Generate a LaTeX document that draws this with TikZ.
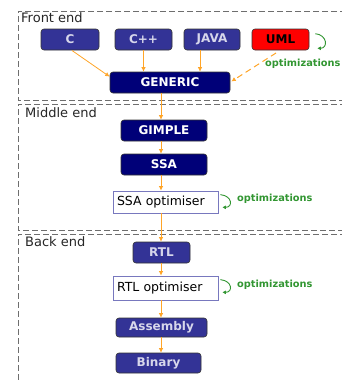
\documentclass[tikz,border=0pt]{standalone}
\usepackage{fontspec}
\setmainfont{DejaVu Sans}
\usetikzlibrary{arrows.meta,calc}
\definecolor{midnavy}{RGB}{51,51,150}
\definecolor{darknavy}{RGB}{0,0,120}
\definecolor{boxtext}{RGB}{215,215,235}
\definecolor{arrorange}{RGB}{255,165,40}
\definecolor{optgreen}{RGB}{50,150,50}
\definecolor{optborder}{RGB}{120,120,190}
\definecolor{dashgray}{RGB}{110,110,110}
\begin{document}
\begin{tikzpicture}[x=1pt,y=-1pt,
  lang/.style={draw=black!80, line width=0.6pt, rounded corners=3pt, fill=midnavy,
    text=boxtext, font=\fontsize{12}{14}\selectfont\bfseries, minimum height=21pt, inner sep=0pt},
  dark/.style={lang, fill=darknavy, text=white},
  optbox/.style={draw=optborder, line width=0.7pt, fill=white, text=black,
    font=\fontsize{12.5}{14}\selectfont, minimum width=105pt, text width=97pt, align=left, inner sep=0pt},
  arr/.style={draw=arrorange, line width=0.8pt, -{Latex[length=4.5pt,width=4.5pt]}},
  loop/.style={draw=optgreen, line width=0.9pt, -{Latex[length=3.5pt,width=4pt]}},
  optlabel/.style={text=optgreen, font=\fontsize{9.8}{11}\selectfont\bfseries, inner sep=0pt, anchor=west},
  region/.style={draw=dashgray, line width=0.8pt, dash pattern=on 6pt off 3pt},
  title/.style={font=\fontsize{13}{15}\selectfont, text=black!85, inner sep=0pt, anchor=north west}
]
\useasboundingbox (0,0) rectangle (341,381);
% regions
\draw[region] (346,11) -- (18,11) -- (18,100) -- (346,100);
\draw[region] (346,104) -- (18,104) -- (18,230) -- (346,230);
\draw[region] (346,234) -- (18,234) -- (18,385);
\node[title] (fe) at (21,12) {Front end};
\node[title] (me) at (25,107) {Middle end};
\node[title] (be) at (25,236) {Back end};
% front end nodes
\node[lang, minimum width=58pt] (C) at (70,39.5) {C};
\node[lang, minimum width=57pt] (CPP) at (143.5,39.5) {C++};
\node[lang, minimum width=56pt] (JAVA) at (212,39.5) {JAVA};
\node[lang, minimum width=57pt, fill=red, text=black] (UML) at (280.5,39.5) {UML};
\node[dark, minimum width=120pt] (GEN) at (170,82.5) {GENERIC};
% middle end
\node[dark, minimum width=86pt] (GIMPLE) at (164,130.5) {GIMPLE};
\node[dark, minimum width=86pt] (SSA) at (164,164.5) {SSA};
\node[optbox, minimum height=22pt] (SSAO) at (165.5,202) {SSA optimiser};
% back end
\node[lang, minimum width=57pt] (RTL) at (161.5,252.5) {RTL};
\node[optbox, minimum height=24pt] (RTLO) at (165.5,288) {RTL optimiser};
\node[lang, minimum width=91pt, minimum height=19pt] (ASM) at (161.5,327.5) {Assembly};
\node[lang, minimum width=85pt, minimum height=20pt] (BIN) at (158.5,363) {Binary};
% columns
\coordinate (col) at (161,0);
\coordinate (javacol) at (200,0);
\coordinate (cstart) at (72,50.5);
\coordinate (umlstart) at (276,53);
% arrows
\draw[arr] (cstart) -- ([yshift=-5pt]GEN.north west);
\draw[arr] (CPP.south) -- (CPP.south |- GEN.north);
\draw[arr] (JAVA.south -| javacol) -- (GEN.north -| javacol);
\draw[arr, line width=1pt, dash pattern=on 6pt off 4pt] (umlstart) -- ([xshift=1pt,yshift=1pt]GEN.east);
\draw[arr] (GEN.south -| col) -- (GIMPLE.north -| col);
\draw[arr] (GIMPLE.south -| col) -- (SSA.north -| col);
\draw[arr] (SSA.south -| col) -- (SSAO.north -| col);
\draw[arr] (SSAO.south -| col) -- (RTL.north -| col);
\draw[arr] (RTL.south -| col) -- (RTLO.north -| col);
\draw[arr] (RTLO.south -| col) -- (ASM.north -| col);
\draw[arr] (ASM.south -| col) -- (BIN.north -| col);
% loops
\draw[loop] ([xshift=6pt,yshift=-5pt]UML.north east) .. controls +(12,1) and +(11,0) .. ([xshift=8pt,yshift=2pt]UML.south east);
\draw[loop] ([xshift=2pt,yshift=-4pt]SSAO.north east) .. controls +(12,1) and +(11,0) .. ([xshift=4pt,yshift=6pt]SSAO.south east);
\draw[loop] ([xshift=2pt,yshift=-4pt]RTLO.north east) .. controls +(12,1) and +(11,0) .. ([xshift=4pt,yshift=8pt]RTLO.south east);
\node[optlabel] (o1) at (265,64) {optimizations};
\node[optlabel] (o2) at (237,199) {optimizations};
\node[optlabel] (o3) at (237,285) {optimizations};
\end{tikzpicture}
\end{document}
